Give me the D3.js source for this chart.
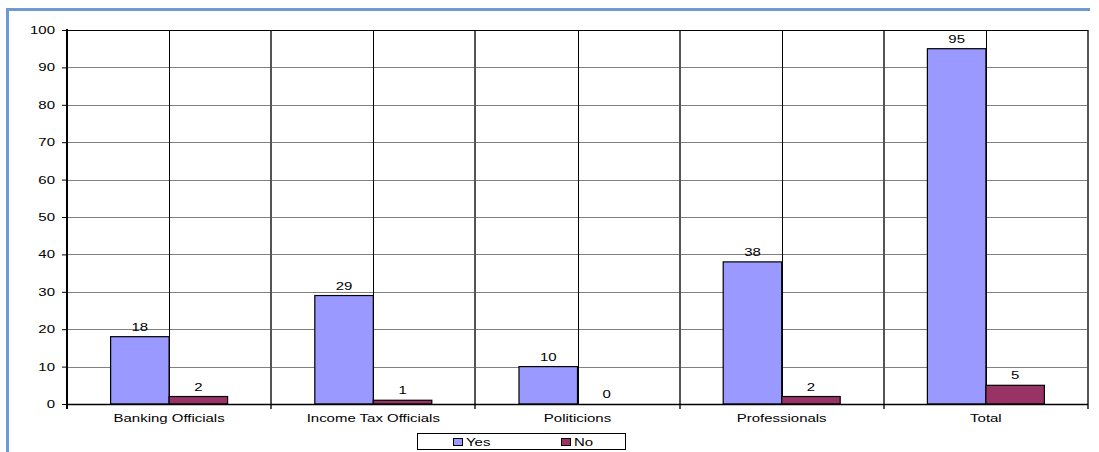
<!DOCTYPE html>
<html><head><meta charset="utf-8">
<script src="https://cdn.jsdelivr.net/npm/d3@7"></script>
<style>body{margin:0;background:#fff}svg{display:block;font-family:"Liberation Sans",Arial,sans-serif}</style>
</head><body><svg id="c" width="1099" height="452"></svg>
<script>
const categories = ["Banking Officials","Income Tax Officials","Politicions","Professionals","Total"];
const yesValues = [18,29,10,38,95];
const noValues = [2,1,0,2,5];
const seriesNames = ["Yes","No"];
const yTicks = [0,10,20,30,40,50,60,70,80,90,100];

const svg = d3.select("#c");
const L=67, R=1088, T=30, B=404;
const colors = ["#9999FF","#993366"];
const SX = 1.36, FS = 11;

function stext(parent, x, y, str, anchor){
  const g = parent.append("g").attr("transform",`translate(${x},${y}) scale(${SX},1)`);
  g.append("text").attr("x",0).attr("y",0).attr("text-anchor",anchor||"middle")
    .attr("font-size",FS).attr("fill","#000").text(str);
  return g;
}

// outer frame
svg.append("line").attr("x1",7).attr("x2",1090).attr("y1",9.5).attr("y2",9.5).attr("stroke","#6E9AD2").attr("stroke-width",3);
svg.append("line").attr("x1",7.5).attr("x2",7.5).attr("y1",8).attr("y2",452).attr("stroke","#6E9AD2").attr("stroke-width",3);

const x = d3.scaleBand().domain(categories).range([L,R]);
const y = d3.scaleLinear().domain([0,100]).range([B,T]);

// horizontal gridlines
svg.append("g").selectAll("line").data(yTicks.slice(1)).join("line")
  .attr("x1",L).attr("x2",R).attr("y1",d=>Math.round(y(d))+0.5).attr("y2",d=>Math.round(y(d))+0.5)
  .attr("stroke","#808080").attr("stroke-width",1);

// vertical lines at category centers
svg.append("g").selectAll("line").data(categories).join("line")
  .attr("x1",d=>Math.round(x(d)+x.bandwidth()/2)+0.5).attr("x2",d=>Math.round(x(d)+x.bandwidth()/2)+0.5)
  .attr("y1",T).attr("y2",B).attr("stroke","#000").attr("stroke-width",1);
// vertical lines at category boundaries
svg.append("g").selectAll("line").data(categories.slice(1)).join("line")
  .attr("x1",d=>Math.round(x(d))).attr("x2",d=>Math.round(x(d)))
  .attr("y1",T).attr("y2",B+5).attr("stroke","#555").attr("stroke-width",2);
svg.append("line").attr("x1",R).attr("x2",R).attr("y1",T).attr("y2",B+5).attr("stroke","#555").attr("stroke-width",2);
svg.append("line").attr("x1",L).attr("x2",L).attr("y1",T-1).attr("y2",B+5).attr("stroke","#000").attr("stroke-width",2);
svg.append("line").attr("x1",L).attr("x2",R).attr("y1",T+0.5).attr("y2",T+0.5).attr("stroke","#000").attr("stroke-width",1);

// y axis (ticks from d3 axis, labels stretched)
const yAxis = d3.axisLeft(y).tickValues(yTicks).tickSize(5).tickFormat("");
const ga = svg.append("g").attr("transform",`translate(${L},0)`).call(yAxis);
ga.select(".domain").remove();
ga.selectAll(".tick line").attr("stroke","#000");
const yl = svg.append("g");
yTicks.forEach(t=>stext(yl, 55, y(t)+4, String(t), "end"));

// bars
const groupW = 117;
const xs = d3.scaleBand().domain(seriesNames).range([0,groupW]);
const seriesData = [yesValues,noValues];
seriesData.forEach((vals,si)=>{
  const g = svg.append("g");
  g.selectAll("rect").data(vals).join("rect")
    .attr("x",(d,i)=>x(categories[i])+x.bandwidth()/2-groupW/2+xs(seriesNames[si]))
    .attr("y",d=>y(d)).attr("width",xs.bandwidth()).attr("height",d=>B-y(d))
    .attr("fill",colors[si]).attr("stroke","#000").attr("stroke-width",1.2);
  const lg = svg.append("g");
  vals.forEach((d,i)=>{
    stext(lg, x(categories[i])+x.bandwidth()/2-groupW/2+xs(seriesNames[si])+xs.bandwidth()/2, y(d)-6, String(d));
  });
});

// x axis line
svg.append("line").attr("x1",L).attr("x2",R).attr("y1",B+0.5).attr("y2",B+0.5).attr("stroke","#000").attr("stroke-width",1.5);

// category labels
const cl = svg.append("g");
categories.forEach(c=>stext(cl, x(c)+x.bandwidth()/2, 422, c));

// legend
const lg = svg.append("g");
lg.append("rect").attr("x",417.5).attr("y",433.5).attr("width",208).attr("height",16).attr("fill","#fff").attr("stroke","#000").attr("stroke-width",1);
const legX = [453,561];
seriesNames.forEach((n,i)=>{
  lg.append("rect").attr("x",legX[i]+0.5).attr("y",438.5).attr("width",9).attr("height",7).attr("fill",colors[i]).attr("stroke","#000");
  stext(lg, legX[i]+13, 445.5, n, "start");
});
</script></body></html>
